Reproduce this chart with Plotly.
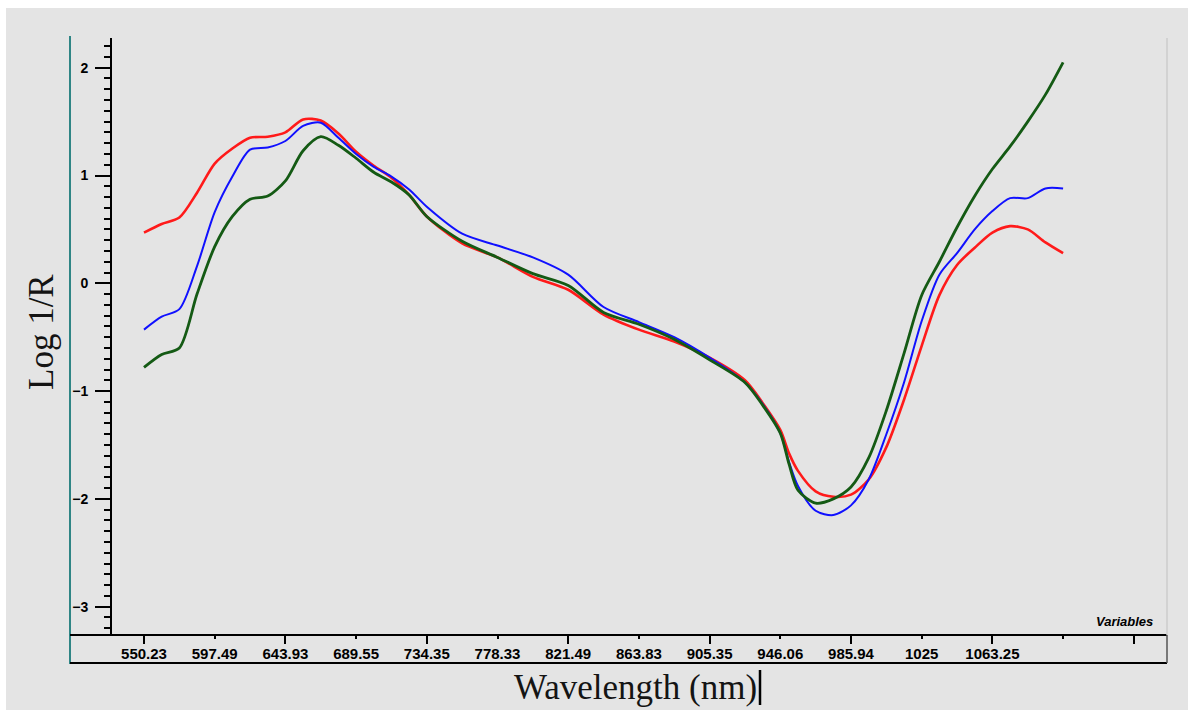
import plotly.graph_objects as go

# Axis ticks: wavelengths labelled at evenly spaced variable positions
wavelength_ticks = ["550.23", "597.49", "643.93", "689.55", "734.35", "778.33",
                    "821.49", "863.83", "905.35", "946.06", "985.94", "1025",
                    "1063.25", "", ""]
tick_pos = list(range(len(wavelength_ticks)))

# Sample positions along the variable axis (in tick steps)
var_pos = [0, 0.25, 0.5, 0.75, 1, 1.25, 1.5, 1.75, 2, 2.25, 2.5, 2.75, 3, 3.25,
           3.5, 3.75, 4, 4.5, 5, 5.5, 6, 6.5, 7, 7.5, 8, 8.5, 8.75, 9, 9.125,
           9.25, 9.5, 9.75, 10, 10.25, 10.5, 10.75, 11, 11.25, 11.5, 11.75,
           12, 12.25, 12.5, 12.75, 13]

# Log 1/R spectra
spec_red = [0.47, 0.55, 0.61, 0.84, 1.11, 1.25, 1.35, 1.36, 1.40, 1.52, 1.51,
            1.39, 1.22, 1.09, 0.98, 0.82, 0.62, 0.37, 0.24, 0.06, -0.06, -0.29,
            -0.43, -0.54, -0.69, -0.90, -1.11, -1.36, -1.58, -1.74, -1.93,
            -1.98, -1.96, -1.82, -1.52, -1.08, -0.58, -0.11, 0.17, 0.33, 0.47,
            0.53, 0.50, 0.38, 0.28]
spec_blue = [-0.43, -0.31, -0.24, 0.16, 0.66, 0.99, 1.24, 1.26, 1.32, 1.46,
             1.49, 1.35, 1.20, 1.08, 0.99, 0.87, 0.71, 0.46, 0.35, 0.24, 0.08,
             -0.22, -0.36, -0.50, -0.69, -0.92, -1.12, -1.39, -1.66, -1.88,
             -2.11, -2.15, -2.06, -1.82, -1.40, -0.92, -0.35, 0.08, 0.28, 0.50,
             0.67, 0.79, 0.79, 0.88, 0.88]
spec_green = [-0.78, -0.66, -0.60, -0.10, 0.34, 0.62, 0.78, 0.81, 0.95, 1.23,
              1.36, 1.28, 1.16, 1.03, 0.94, 0.82, 0.62, 0.39, 0.24, 0.09, -0.02,
              -0.27, -0.38, -0.52, -0.71, -0.92, -1.13, -1.39, -1.68, -1.92,
              -2.04, -2.00, -1.89, -1.62, -1.18, -0.65, -0.11, 0.20, 0.52, 0.81,
              1.06, 1.27, 1.50, 1.75, 2.05]

BG = "#e4e4e4"
SANS = "Liberation Sans, Arial, sans-serif"
SERIF = "Liberation Serif, Times New Roman, serif"

# plot-area geometry in pixels (used to place frame decorations)
W, H = 1188, 710
L, R, T, B = 112, 1167, 38, 635


def px(x):
    return (x - L) / (R - L)


def py(y):
    return (B - y) / (B - T)


x_range = [(L - 144) / 70.7, (R - 144) / 70.7]

fig = go.Figure()
fig.add_trace(go.Scatter(x=var_pos, y=spec_red, mode="lines",
                         line=dict(color="#ff1a1a", width=2.6, shape="spline",
                                   smoothing=0.8),
                         showlegend=False, hoverinfo="skip"))
fig.add_trace(go.Scatter(x=var_pos, y=spec_blue, mode="lines",
                         line=dict(color="#1010ff", width=2, shape="spline",
                                   smoothing=0.8),
                         showlegend=False, hoverinfo="skip"))
fig.add_trace(go.Scatter(x=var_pos, y=spec_green, mode="lines",
                         line=dict(color="#145a14", width=2.8, shape="spline",
                                   smoothing=0.8),
                         showlegend=False, hoverinfo="skip"))
# carrier for the long-tick overlay axis
fig.add_trace(go.Scatter(x=[], y=[], xaxis="x2", showlegend=False,
                         hoverinfo="skip"))

shapes = [
    # grey panel
    dict(type="rect", xref="paper", yref="paper", x0=px(6), x1=px(W + 5),
         y0=py(8), y1=py(H + 5), fillcolor=BG, line=dict(width=0), layer="below"),
    # teal frame line on the left
    dict(type="line", xref="paper", yref="paper", x0=px(70), x1=px(70),
         y0=py(36), y1=py(664), line=dict(color="#2f8585", width=2)),
    # axis band
    dict(type="line", xref="paper", yref="paper", x0=px(70), x1=px(R),
         y0=py(B), y1=py(B), line=dict(color="black", width=2)),
    dict(type="line", xref="paper", yref="paper", x0=px(70), x1=px(R),
         y0=py(663), y1=py(663), line=dict(color="black", width=2)),
    dict(type="line", xref="paper", yref="paper", x0=px(R), x1=px(R),
         y0=py(B), y1=py(663), line=dict(color="#555555", width=1.5)),
    dict(type="line", xref="paper", yref="paper", x0=px(R), x1=px(R),
         y0=py(T), y1=py(B), line=dict(color="#cdcdcd", width=1.5)),
    # text cursor after the axis title
    dict(type="line", xref="paper", yref="paper", x0=px(760), x1=px(760),
         y0=py(670), y1=py(705), line=dict(color="black", width=2.5)),
]

annotations = [
    dict(text="Wavelength (nm)", xref="paper", yref="paper", x=px(635),
         y=py(688), showarrow=False, xanchor="center", yanchor="middle",
         font=dict(family=SERIF, size=35, color="#141414")),
    dict(text="Log 1/R", xref="paper", yref="paper", x=px(41), y=py(332),
         showarrow=False, textangle=-90, xanchor="center", yanchor="middle",
         font=dict(family=SERIF, size=35, color="#141414")),
    dict(text="<b><i>Variables</i></b>", xref="paper", yref="paper", x=px(1124),
         y=py(621), showarrow=False, xanchor="center", yanchor="middle",
         font=dict(family=SANS, size=13, color="black")),
]

fig.update_layout(
    width=W, height=H,
    margin=dict(l=L, r=W - R, t=T, b=H - B),
    paper_bgcolor="white", plot_bgcolor=BG,
    shapes=shapes, annotations=annotations,
    xaxis=dict(range=x_range, tickmode="array", tickvals=tick_pos,
               ticktext=wavelength_ticks, ticks="outside", ticklen=3,
               tickwidth=1.5, tickcolor="black", showline=False,
               showgrid=False, zeroline=False, ticklabelstandoff=2,
               tickfont=dict(family=SANS, size=15, color="black",
                             weight="bold")),
    xaxis2=dict(range=x_range, overlaying="x", anchor="y", side="bottom",
                tickmode="array", tickvals=tick_pos[::2], ticks="outside",
                ticklen=8, tickwidth=1.5, tickcolor="black",
                showticklabels=False, showline=False, showgrid=False,
                zeroline=False),
    yaxis=dict(range=[(B - 283.3) / -107.8, (283.3 - T) / 107.8],
               tickmode="array", tickvals=[-3, -2, -1, 0, 1, 2],
               ticks="outside", ticklen=15, tickwidth=2, tickcolor="black",
               showline=True, linecolor="black", linewidth=2,
               showgrid=False, zeroline=False, ticklabelstandoff=4,
               minor=dict(dtick=0.1, tick0=0, ticks="outside", ticklen=6,
                          tickwidth=1.5, tickcolor="black"),
               tickfont=dict(family=SANS, size=14, color="black",
                             weight="bold")),
)

fig.write_html("out.html")
